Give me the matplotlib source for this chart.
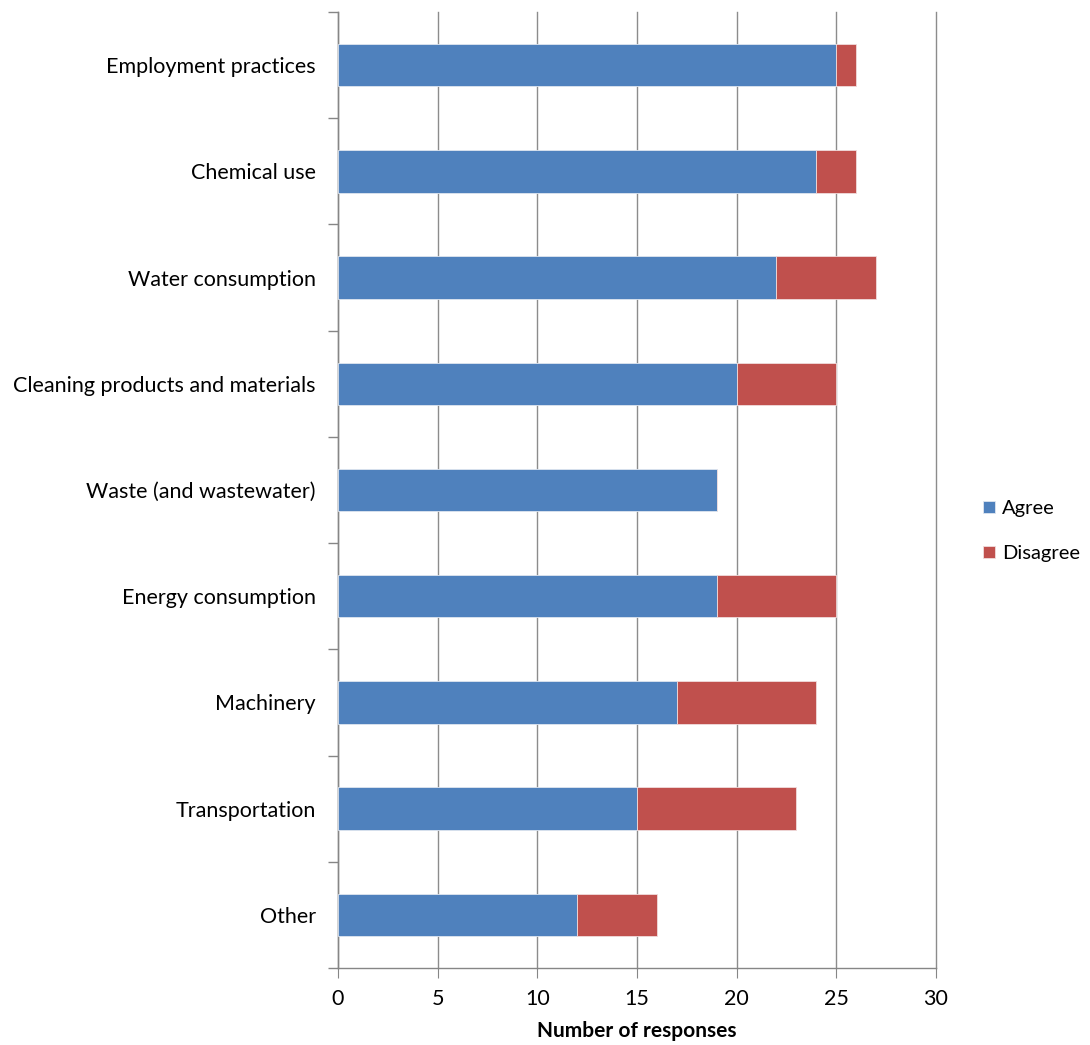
import matplotlib.pyplot as plt
import numpy as np

# survey categories, bottom to top as drawn
categories = ["Other", "Transportation", "Machinery", "Energy consumption",
              "Waste (and wastewater)", "Cleaning products and materials",
              "Water consumption", "Chemical use", "Employment practices"]
agree = [12, 15, 17, 19, 19, 20, 22, 24, 25]
disagree = [4, 8, 7, 6, 0, 5, 5, 2, 1]

plt.rcParams['font.family'] = ['Lato', 'DejaVu Sans']

fig = plt.figure(figsize=(10.9, 10.45), dpi=100)
ax = fig.add_axes([0.310, 0.0737, 0.5487, 0.9148])

y = np.arange(len(categories))
ax.barh(y, agree, height=0.4, color="#4F81BD", edgecolor="#dfe6f0", linewidth=0.6,
        label="Agree", zorder=3)
ax.barh(y, disagree, left=agree, height=0.4, color="#C0504D", edgecolor="#f0dcdc",
        linewidth=0.6, label="Disagree", zorder=3)

ax.set_xlim(0, 30)
ax.set_ylim(-0.5, len(categories) - 0.5)
ax.set_xticks(range(0, 31, 5))
ax.set_yticks(y)
ax.set_yticklabels(categories)
ax.set_yticks(np.arange(-0.5, len(categories), 1), minor=True)
ax.tick_params(axis='y', which='major', length=0, pad=16, labelsize=15.5)
ax.tick_params(axis='y', which='minor', length=7, color="#868686", width=1)
ax.tick_params(axis='x', length=7, color="#868686", labelsize=15.5, pad=8)

ax.grid(axis='x', color="#8c8c8c", linewidth=1, zorder=0)
for gl in ax.get_xgridlines():
    gl.set_clip_on(False)
for s in ['top', 'right']:
    ax.spines[s].set_visible(False)
for s in ['left', 'bottom']:
    ax.spines[s].set_color("#868686")
    ax.spines[s].set_linewidth(1)

ax.set_xlabel("Number of responses", fontsize=15, fontweight='bold', labelpad=9)

ax.legend(loc='center left', bbox_to_anchor=(1.065, 0.457), frameon=False,
          fontsize=14.5, handlelength=0.6, handleheight=0.6, labelspacing=1.4,
          handletextpad=0.35, borderaxespad=0)

fig.savefig("out.png", dpi=100)
